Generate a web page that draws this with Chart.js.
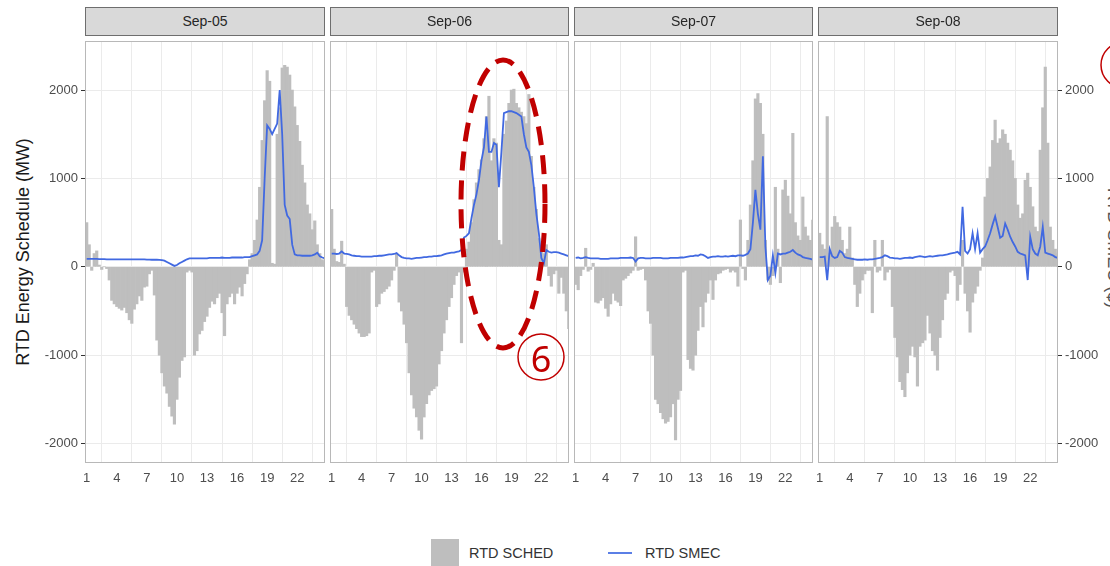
<!DOCTYPE html>
<html>
<head>
<meta charset="utf-8">
<script src="https://cdn.jsdelivr.net/npm/chart.js@4.4.0/dist/chart.umd.min.js"></script>
<style>
body{margin:0;background:#fff;font-family:"Liberation Sans",Arial,sans-serif;}
#wrap{position:relative;width:1110px;height:566px;overflow:hidden;background:#fff;}
#wrap canvas{position:absolute;top:27px;}
.strip{position:absolute;top:7px;height:29px;background:#d9d9d9;border:1px solid #6e6e6e;box-sizing:border-box;text-align:center;line-height:27px;font-size:14px;color:#262626;}
.ytitle{position:absolute;white-space:nowrap;font-size:18px;color:#1a1a1a;}
.leg{position:absolute;font-size:14.5px;color:#333;white-space:nowrap;line-height:18px;}
svg{position:absolute;left:0;top:0;pointer-events:none;}
</style>
</head>
<body>
<div id="wrap">
  <div class="ytitle" style="left:23px;top:252px;transform:translate(-50%,-50%) rotate(-90deg);">RTD Energy Schedule (MW)</div>
  <div class="ytitle" style="left:1113px;top:248px;transform:translate(-50%,-50%) rotate(90deg);color:#555;">RTD SMEC ($)</div>
  <canvas id="panel1"></canvas>
  <canvas id="panel2"></canvas>
  <canvas id="panel3"></canvas>
  <canvas id="panel4"></canvas>
  <div id="strips"></div>
  <div style="position:absolute;left:431px;top:539px;width:28px;height:28px;background:#bebebe;"></div>
  <div class="leg" style="left:469px;top:544px;">RTD SCHED</div>
  <div style="position:absolute;left:608px;top:552px;width:24px;height:2px;background:#5b7fe6;"></div>
  <div class="leg" style="left:645px;top:544px;">RTD SMEC</div>
  <svg width="1110" height="566">
    <ellipse cx="503" cy="204" rx="42" ry="144" fill="none" stroke="#c00000" stroke-width="5" stroke-dasharray="19 10"></ellipse>
    <circle cx="541" cy="357" r="23" fill="none" stroke="#c00000" stroke-width="1.5"></circle>
    <text x="541" y="358" fill="#c00000" font-size="36" font-family="Noto Sans, Lato, sans-serif" text-anchor="middle" dominant-baseline="central">6</text>
    <circle cx="1124" cy="65" r="23" fill="none" stroke="#c00000" stroke-width="1.5"></circle>
  </svg>
</div>
<script>
var days = ['Sep-05', 'Sep-06', 'Sep-07', 'Sep-08'];
var xTickLabels = [1, 4, 7, 10, 13, 16, 19, 22];
var yTickValues = [-2000, -1000, 0, 1000, 2000];

// 15-minute intervals, 4 values per hour, hours 1..24
var sched05 = [
  500, 250, -40, 150,   180, 20, -30, 0,   -20, -150, -380, -420,   -450, -470, -490, -460,
  -520, -600, -640, -480,   -420, -330, -380, -230,   -220, -80, -40, -320,   -830, -1000, -1200, -1350,
  -1430, -1580, -1690, -1780,   -1500, -1250, -1060, -1020,   -60, -40, -60, -1000,   -950, -760, -720, -620,
  -560, -460, -390, -420,   -350, -300, -520, -780,   -420, -340, -300, -420,   -300, -230, -330, -190,
  -80, 80, 150, 300,   530, 900, 1430, 1880,   2220, 2100, 40, 30,   1500, 1800, 2250, 2280,
  2260, 2170, 2000, 1810,   1600, 1420, 1150, 950,   700, 600, 420, 520,   250, 150, 80, 60
];
var smec05 = [
  90, 90, 90, 90,   90, 88, 88, 88,   85, 85, 85, 85,   85, 85, 85, 85,
  85, 85, 85, 85,   85, 85, 85, 85,   82, 82, 80, 80,   80, 78, 75, 70,
  55, 40, 25, 10,   20, 40, 55, 70,   85, 95, 95, 95,   95, 95, 95, 95,
  95, 100, 100, 100,   100, 100, 105, 100,   100, 100, 105, 105,   105, 105, 105, 110,
  110, 110, 120, 130,   140, 180, 300, 1000,   1600, 1560, 1500, 1560,   1620, 2000, 1500, 700,
  580, 540, 250, 140,   130, 130, 125, 125,   125, 125, 130, 140,   160, 120, 105, 95
];
var sched06 = [
  650, 200, 60, 50,   290, 30, -450, -550,   -600, -650, -700, -750,   -790, -790, -780, -750,
  -60, -40, -450, -420,   -300, -280, -250, -220,   -150, -40, 150, -400,   -500, -650, -860, -1200,
  -1450, -1600, -1700, -1850,   -1950, -1700, -1550, -1450,   -1400, -1380, -1350, -1100,   -950, -750, -600, -450,
  -350, -200, -100, -60,   -860, -60, 200, 280,   500, 760, 950, 1100,   1210, 1450, 1700, 1930,
  1200, 1450, 1400, 300,   250, 1500, 1650, 1850,   2000, 2010, 1850, 1800,   1750, 1700, 1620, 1950,
  1250, 900, 650, 320,   200, 150, 250, -100,   -220, -80, -40, -300,   -120, -300, -500, -700
];
var smec06 = [
  150, 150, 145, 150,   175, 150, 145, 140,   130, 125, 120, 120,   115, 115, 115, 115,
  115, 120, 120, 125,   125, 130, 135, 140,   140, 145, 155, 130,   110, 100, 95, 95,
  90, 95, 100, 100,   105, 110, 110, 115,   115, 120, 120, 125,   130, 140, 150, 155,
  160, 160, 170, 175,   190, 330, 350, 380,   550, 700, 820, 980,   1200, 1350, 1700, 1300,
  1300, 1400, 1380, 900,   1300, 1740, 1750, 1760,   1760, 1750, 1740, 1720,   1700, 1500, 1350, 1300,
  1150, 900, 600, 380,   100, 40, 190, 170,   160, 165, 165, 160,   150, 140, 130, 120
];
var sched07 = [
  -200, -260, -100, -30,   210, -50, -30, 40,   -400, -410, -380, -350,   -470, -560, -420, -300,
  -380, -400, -440, -150,   -130, -100, -70, -40,   340, -40, -30, -20,   -150, -500, -640, -1000,
  -1500, -1550, -1650, -1720,   -1770, -1750, -1700, -1550,   -1960, -1500, -1400, -60,   -40, -1050, -1150, -1170,
  -1000, -720, -450, -680,   -400, -300, -150, -370,   -150, -80, -70, -40,   -30, -20, -60, -40,
  -60, -220, 530, -20,   -150, 300, 700, 1200,   1900, 1960, 1850, 1500,   300, -150, -200, -100,
  900, 200, -180, 870,   980, 800, 600, 1510,   500, 350, 300, 790,   450, 350, 300, 530
];
var smec07 = [
  100, 105, 95, 100,   110, 100, 95, 95,   95, 95, 90, 90,   90, 90, 95, 95,
  95, 95, 100, 100,   100, 100, 105, 100,   60, 95, 100, 100,   95, 95, 95, 100,
  100, 100, 100, 95,   95, 95, 100, 100,   100, 100, 105, 105,   110, 115, 120, 120,
  130, 125, 140, 135,   120, 100, 110, 115,   115, 120, 115, 115,   120, 115, 120, 125,
  120, 130, 130, 125,   135, 150, 200, 500,   870, 600, 420, 1250,   230, -150, -100, 130,
  -70, 150, 140, 150,   150, 160, 170, 190,   160, 140, 130, 110,   100, 95, 90, 80
];
var sched08 = [
  380, 250, 200, 1700,   150, 450, 570, 500,   450, 300, 150, 200,   450, 100, -200, -450,
  -300, -150, -80, -40,   -40, -520, 300, -60,   -40, 300, -150, -60,   -30, -450, -800, -1020,
  -1300, -1390, -1470, -1200,   -1000, -900, -1020, -1350,   -900, -860, -830, -550,   -750, -950, -1000, -1170,
  -800, -600, -370, -300,   -60, -40, -100, -380,   -200, 300, -300, -500,   -740, -400, -300, -220,
  -40, 100, 790, 1000,   1130, 1430, 1660, 1400,   1450, 1550, 1500, 1400,   1320, 1200, 1000, 700,
  550, 600, 980, 1060,   900, 680, 450, 400,   1320, 1800, 2260, 1400,   450, 300, 200, 150
];
var smec08 = [
  110, 110, 115, -150,   200, 120, 100, 110,   180, 160, 110, 100,   95, 90, 85, 80,
  80, 80, 85, 80,   85, 85, 90, 95,   100, 110, 130, 120,   105, 100, 95, 95,
  90, 95, 100, 100,   105, 100, 110, 115,   120, 115, 110, 115,   120, 115, 120, 125,
  130, 130, 135, 140,   150, 155, 160, 170,   140, 680, 180, 150,   200, 380, 200, 380,
  160, 200, 230, 300,   380, 480, 570, 450,   330, 350, 490, 420,   340, 280, 230, 170,
  150, 140, 130, -150,   340, 200, 150, 130,   230, 450, 160, 150,   140, 130, 110, 100
];

var intervals = [];
for (var i = 0; i < 96; i++) { intervals.push(1 + i / 4); }

var fontFamily = '"Liberation Sans", Arial, sans-serif';

var panelBox = {
    id: 'panelBox',
    afterDatasetsDraw: function(chart){
        var a = chart.chartArea, ctx = chart.ctx;
        ctx.save();
        ctx.strokeStyle = '#b8b8b8';
        ctx.lineWidth = 1;
        ctx.strokeRect(a.left + 0.5, a.top + 0.5, a.right - a.left - 1, a.bottom - a.top - 1);
        ctx.restore();
    }
};

var toPoints = function(arr){
    return arr.map(function(v, ind){ return {x: intervals[ind], y: v}; });
};

var createPanelConfig = function(schedArr, smecArr, axisSide, pad){
    var showY = axisSide !== 'none';
    return {
        type: 'bar',
        data: {
            datasets: [
                {
                    type: 'line',
                    label: 'RTD SMEC',
                    data: toPoints(smecArr),
                    borderColor: '#4169e1',
                    borderWidth: 1.8,
                    pointRadius: 0,
                    tension: 0,
                    order: 1
                },
                {
                    label: 'RTD SCHED',
                    data: toPoints(schedArr),
                    backgroundColor: '#bebebe',
                    borderWidth: 0,
                    barPercentage: 1,
                    categoryPercentage: 1,
                    order: 2
                }
            ]
        },
        options: {
            responsive: false,
            animation: false,
            layout: { padding: pad },
            plugins: { legend: { display: false }, tooltip: { enabled: false } },
            scales: {
                x: {
                    type: 'linear',
                    min: 0.83,
                    max: 24.77,
                    offset: false,
                    afterBuildTicks: function(scale){ scale.ticks = xTickLabels.map(function(v){ return {value: v}; }); },
                    afterFit: function(scale){ scale.height = 34; },
                    border: { display: false },
                    grid: { color: '#ebebeb', drawTicks: false },
                    ticks: { padding: 8, autoSkip: false, maxRotation: 0, color: '#4d4d4d', font: { size: 13, family: fontFamily } }
                },
                y: {
                    position: axisSide === 'right' ? 'right' : 'left',
                    min: -2220,
                    max: 2555,
                    afterBuildTicks: function(scale){ scale.ticks = yTickValues.map(function(v){ return {value: v}; }); },
                    afterFit: function(scale){ scale.width = axisSide === 'left' ? 85 : (axisSide === 'right' ? 52 : 0); },
                    border: { display: false },
                    grid: { color: '#ebebeb', tickColor: '#333', tickLength: 4, drawTicks: showY },
                    ticks: {
                        display: showY,
                        padding: 3,
                        color: '#4d4d4d',
                        font: { size: 13, family: fontFamily },
                        callback: function(v){ return String(v); }
                    }
                }
            }
        },
        plugins: [panelBox]
    };
};

var panels = [
    {id: 'panel1', left: 0, width: 335, axis: 'left', pad: {top: 14, right: 10, left: 0, bottom: 0}, sched: sched05, smec: smec05, area: [85, 325]},
    {id: 'panel2', left: 320, width: 259, axis: 'none', pad: {top: 14, right: 10, left: 10, bottom: 0}, sched: sched06, smec: smec06, area: [330, 569]},
    {id: 'panel3', left: 564, width: 259, axis: 'none', pad: {top: 14, right: 10, left: 10, bottom: 0}, sched: sched07, smec: smec07, area: [574, 813]},
    {id: 'panel4', left: 808, width: 302, axis: 'right', pad: {top: 14, right: 0, left: 10, bottom: 0}, sched: sched08, smec: smec08, area: [818, 1058]}
];

var strips = document.getElementById('strips');
panels.forEach(function(p, ind){
    var cv = document.getElementById(p.id);
    cv.width = p.width;
    cv.height = 470;
    cv.style.left = p.left + 'px';
    cv.style.width = p.width + 'px';
    cv.style.height = '470px';
    new Chart(cv, createPanelConfig(p.sched, p.smec, p.axis, p.pad));

    var s = document.createElement('div');
    s.className = 'strip';
    s.style.left = p.area[0] + 'px';
    s.style.width = (p.area[1] - p.area[0]) + 'px';
    s.textContent = days[ind];
    strips.appendChild(s);
});
</script>
</body>
</html>
